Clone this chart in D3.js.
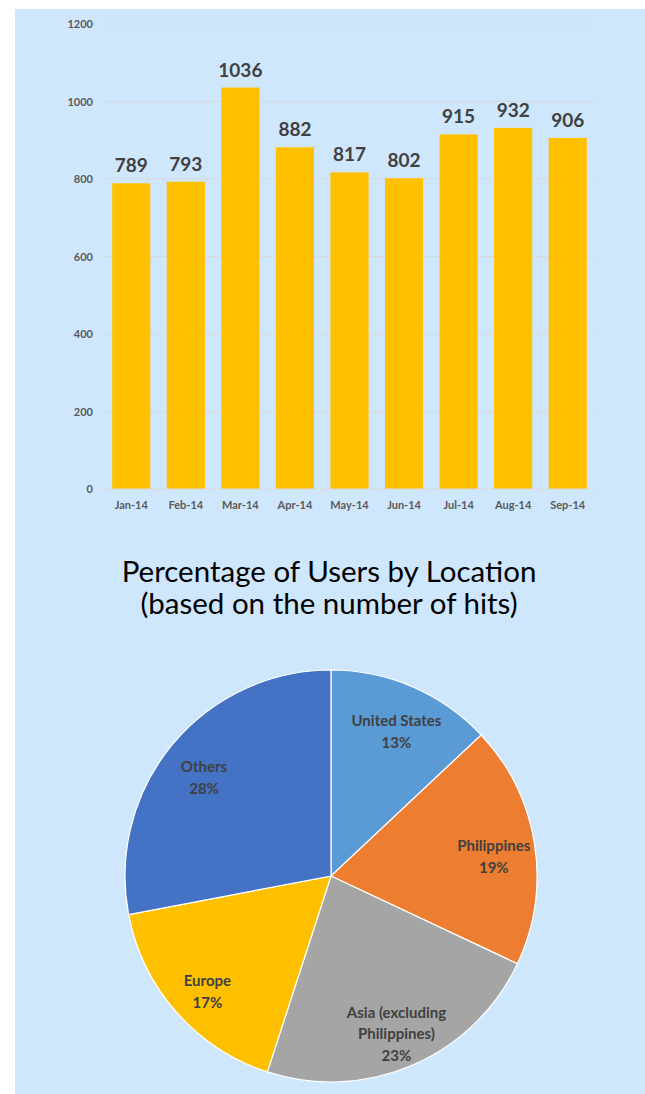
<!DOCTYPE html>
<html>
<head>
<meta charset="utf-8">
<script src="https://cdn.jsdelivr.net/npm/d3@7/dist/d3.min.js"></script>
<style>
  html, body { margin: 0; padding: 0; background: #ffffff; }
  svg { display: block; }
  text { font-family: Lato, "Open Sans", sans-serif; }
</style>
</head>
<body>
<svg id="chart" width="645" height="1094"></svg>
<script>
// ---- Data ----
const months = ["Jan-14", "Feb-14", "Mar-14", "Apr-14", "May-14", "Jun-14", "Jul-14", "Aug-14", "Sep-14"];
const hits = [789, 793, 1036, 882, 817, 802, 915, 932, 906];
const yTicks = [0, 200, 400, 600, 800, 1000, 1200];

const locations = ["United States", "Philippines", "Asia (excluding Philippines)", "Europe", "Others"];
const shares = [13, 19, 23, 17, 28];
const locationLabelLines = [["United States"], ["Philippines"], ["Asia (excluding", "Philippines)"], ["Europe"], ["Others"]];
const locationColors = ["#5b9bd5", "#ed7d31", "#a5a5a5", "#ffc000", "#4472c4"];

const pieTitle = ["Percentage of Users by Location", "(based on the number of hits)"];

// ---- Canvas ----
const svg = d3.select("#chart");
svg.append("rect").attr("x", 15).attr("y", 9).attr("width", 630).attr("height", 1085).attr("fill", "#cfe7fd");

// ---- Bar chart ----
const x = d3.scaleBand().domain(months).range([104, 595]).paddingInner(0.3).paddingOuter(0.15);
const y = d3.scaleLinear().domain([0, 1200]).range([489, 24]);

const grid = svg.append("g");
grid.selectAll("line").data(yTicks.filter(d => d > 0)).join("line")
  .attr("x1", 104).attr("x2", 595)
  .attr("y1", d => y(d)).attr("y2", d => y(d))
  .attr("stroke", "#d9d9d9").attr("stroke-width", 1);

svg.append("g").selectAll("text").data(yTicks).join("text")
  .attr("x", 93).attr("y", d => y(d) + 4)
  .attr("text-anchor", "end")
  .attr("font-size", 11).attr("font-weight", "bold").attr("fill", "#595959")
  .text(d => d);

svg.append("g").selectAll("rect").data(hits).join("rect")
  .attr("x", (d, i) => x(months[i]))
  .attr("width", x.bandwidth())
  .attr("y", d => y(d))
  .attr("height", d => y(0) - y(d))
  .attr("fill", "#ffc000");

// baseline axis with tick marks between categories
const axisG = svg.append("g");
axisG.append("line").attr("x1", 104).attr("x2", 595).attr("y1", y(0)).attr("y2", y(0))
  .attr("stroke", "#d9d9d9");
const step = x.step();
const tickXs = d3.range(months.length + 1).map(i => 104 + i * step);
axisG.selectAll("line.tk").data(tickXs).join("line").attr("class", "tk")
  .attr("x1", d => d).attr("x2", d => d)
  .attr("y1", y(0)).attr("y2", y(0) + 4)
  .attr("stroke", "#d9d9d9");
axisG.selectAll("text").data(months).join("text")
  .attr("x", d => x(d) + x.bandwidth() / 2)
  .attr("y", 509)
  .attr("text-anchor", "middle")
  .attr("font-size", 11).attr("font-weight", "bold").attr("fill", "#595959")
  .text(d => d);

svg.append("g").selectAll("text").data(hits).join("text")
  .attr("x", (d, i) => x(months[i]) + x.bandwidth() / 2)
  .attr("y", d => y(d) - 11)
  .attr("text-anchor", "middle")
  .attr("font-size", 19).attr("font-weight", "bold").attr("fill", "#404040")
  .text(d => d);

// ---- Pie title ----
svg.append("g").selectAll("text").data(pieTitle).join("text")
  .attr("x", 329).attr("y", (d, i) => 582 + i * 32)
  .attr("text-anchor", "middle")
  .attr("font-size", 29.5).attr("fill", "#000000")
  .text(d => d);

// ---- Pie ----
const cx = 331, cy = 876, R = 206;
const pieGen = d3.pie().sort(null).value(d => d);
const arcs = pieGen(shares);
const arcGen = d3.arc().innerRadius(0).outerRadius(R);
const labelArc = d3.arc().innerRadius(R * 0.8).outerRadius(R * 0.8);

const pieG = svg.append("g").attr("transform", `translate(${cx},${cy})`);
pieG.selectAll("path").data(arcs).join("path")
  .attr("d", arcGen)
  .attr("fill", (d, i) => locationColors[i])
  .attr("stroke", "#ffffff").attr("stroke-width", 1.2);

const lbl = pieG.selectAll("g.lbl").data(arcs).join("g").attr("class", "lbl")
  .attr("transform", d => { const c = labelArc.centroid(d); return `translate(${c[0]},${c[1]})`; });
lbl.each(function(d, i) {
  const lines = locationLabelLines[i].concat([shares[i] + "%"]);
  const n = lines.length;
  d3.select(this).selectAll("text").data(lines).join("text")
    .attr("x", 0)
    .attr("y", (t, j) => (j - (n - 1) / 2) * 21.5 + 12)
    .attr("text-anchor", "middle")
    .attr("font-size", 15).attr("font-weight", "bold").attr("fill", "#404040")
    .text(t => t);
});
</script>
</body>
</html>
